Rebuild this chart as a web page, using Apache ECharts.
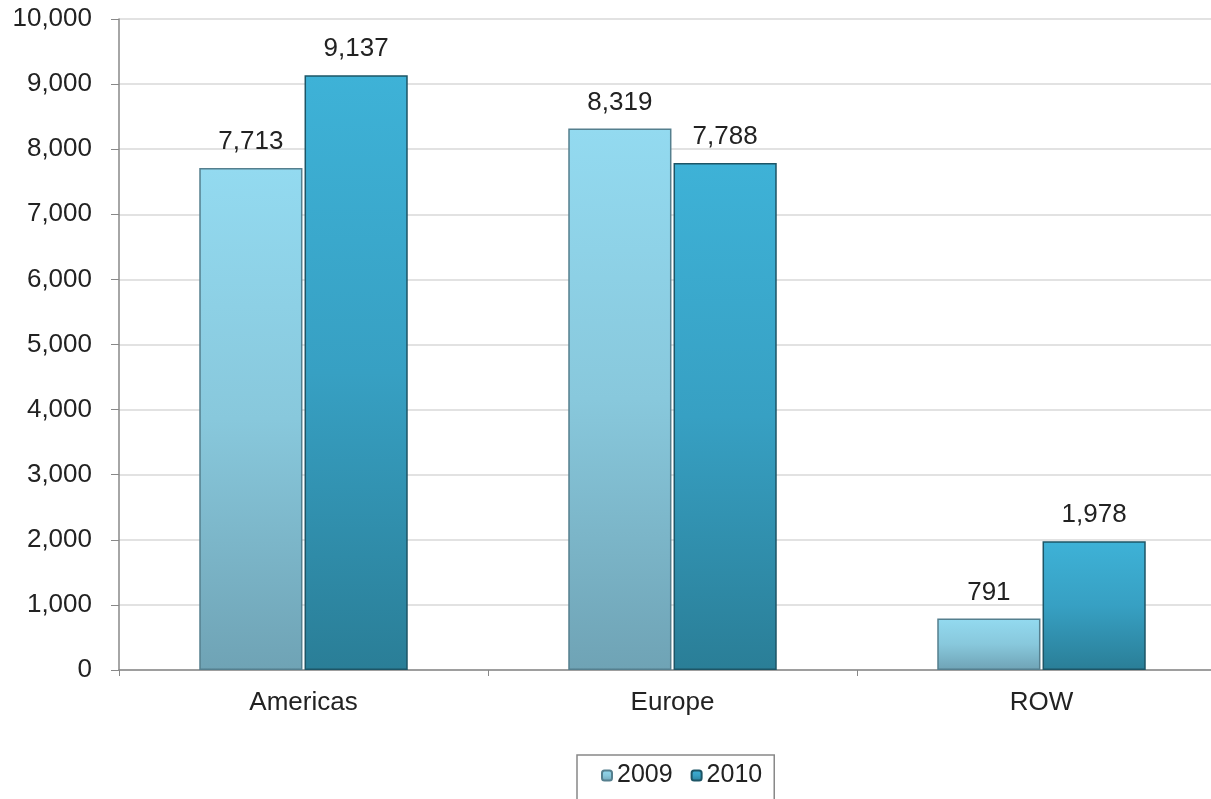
<!DOCTYPE html>
<html><head><meta charset="utf-8">
<script src="https://cdn.jsdelivr.net/npm/echarts@6/dist/echarts.min.js"></script>
<style>html,body{margin:0;padding:0;background:#fff;overflow:hidden;width:1211px;height:799px}#c{width:1226px;height:799px}</style>
</head><body><div id="c"></div>
<script>
var categories = ['Americas', 'Europe', 'ROW'];
var values2009 = [7713, 8319, 791];
var values2010 = [9137, 7788, 1978];
var seriesNames = ['2009', '2010'];

var chart = echarts.init(document.getElementById('c'));
var font = 'Liberation Sans, Arial, sans-serif';
function grad(top, mid, bot) {
  return new echarts.graphic.LinearGradient(0, 0, 0, 1, [
    {offset: 0, color: top}, {offset: 0.5, color: mid}, {offset: 1, color: bot}
  ]);
}
var lbl = {show: true, position: 'top', distance: 13, color: '#222', fontSize: 26, fontFamily: font,
  formatter: function (p) { return p.value.toLocaleString('en-US'); }};
chart.setOption({
  animation: false,
  textStyle: {fontFamily: font},
  grid: {left: 119, right: 0, top: 19, height: 651, containLabel: false},
  legend: {
    data: seriesNames, top: 755, left: 577, itemWidth: 10, itemHeight: 10, itemGap: 18,
    borderColor: '#888', borderWidth: 1.5, padding: [8, 12, 30, 24],
    textStyle: {fontSize: 25, color: '#222', fontFamily: font, padding: [0, 0, 0, 0]}
  },
  xAxis: {
    type: 'category', data: categories,
    axisLine: {lineStyle: {color: '#888', width: 1.5}},
    axisTick: {show: true, length: 6, lineStyle: {color: '#888'}},
    axisLabel: {fontSize: 26, color: '#222', margin: 20, fontFamily: font}
  },
  yAxis: {
    type: 'value', min: 0, max: 10000, interval: 1000,
    axisLine: {show: true, lineStyle: {color: '#888', width: 1.5}},
    axisTick: {show: true, inside: false, length: 8, lineStyle: {color: '#888'}},
    axisLabel: {fontSize: 26, color: '#222', margin: 27, fontFamily: font,
      formatter: function (v) { return v.toLocaleString('en-US'); }},
    splitLine: {lineStyle: {color: '#d9d9d9', width: 1.5}}
  },
  series: [
    {name: seriesNames[0], type: 'bar', data: values2009, barGap: '2%', barCategoryGap: '43.5%',
      itemStyle: {color: grad('#93daf0', '#88c8dc', '#6fa3b5'), borderColor: '#557f8e', borderWidth: 1.5},
      label: lbl},
    {name: seriesNames[1], type: 'bar', data: values2010,
      itemStyle: {color: grad('#3eb2d7', '#37a0c3', '#2a7e97'), borderColor: '#1d5566', borderWidth: 1.5},
      label: lbl}
  ]
});
</script></body></html>
